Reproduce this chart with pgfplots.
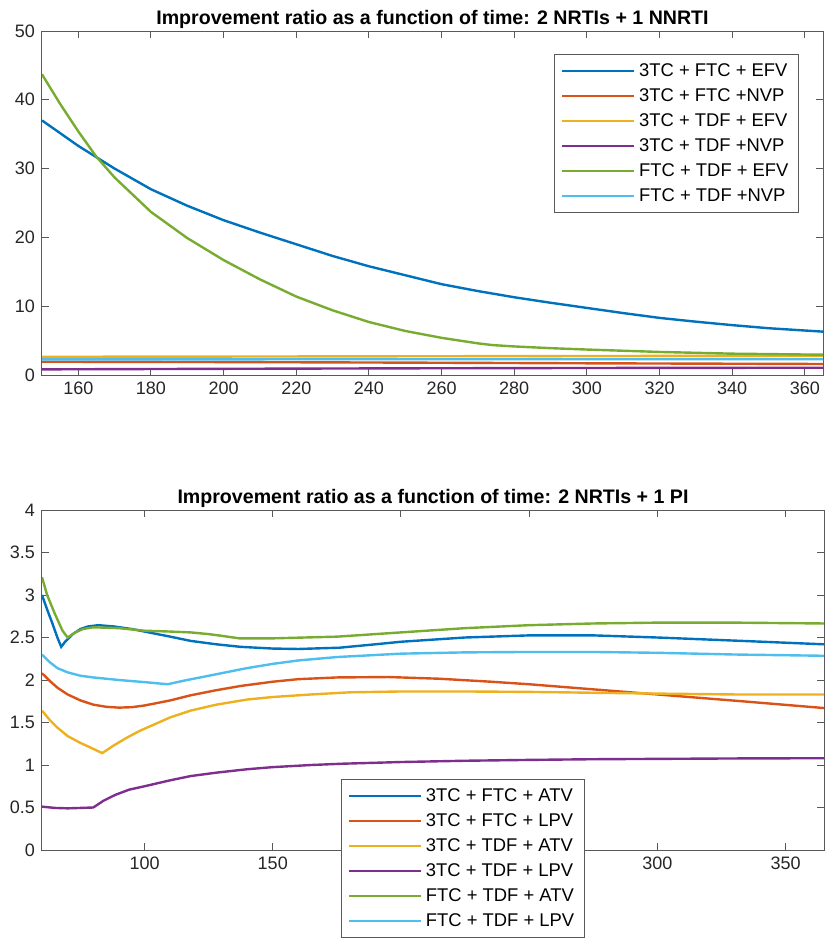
\documentclass[border=0pt]{standalone}
\usepackage{fontspec}
\setmainfont{Liberation Sans}
\usepackage{pgfplots}
\pgfplotsset{compat=1.18}
\definecolor{c1}{rgb}{0,0.447,0.741}
\definecolor{c2}{rgb}{0.85,0.325,0.098}
\definecolor{c3}{rgb}{0.929,0.694,0.125}
\definecolor{c4}{rgb}{0.494,0.184,0.556}
\definecolor{c5}{rgb}{0.466,0.674,0.188}
\definecolor{c6}{rgb}{0.301,0.745,0.933}
\pgfplotsset{
 mystyle/.style={
  scale only axis,
  axis line style={black!65, line width=0.5pt},
  tick style={black!65, line width=0.5pt},
  major tick length=3.5pt,
  tick align=inside,
  xtick pos=both, ytick pos=both,
  ticklabel style={font=\fontsize{9}{10}\selectfont, text=black!85},
  /pgf/number format/assume math mode=true,
  every axis title shift=0pt,
  title style={font=\bfseries\fontsize{9.8}{11}\selectfont, at={(0.5,1)}, anchor=base, inner sep=0pt, yshift=3.5pt},
  legend style={draw=black!65, line width=0.5pt, fill=white,
    font=\fontsize{9.2}{10}\selectfont, inner xsep=3pt, inner ysep=2pt,
    nodes={text height=7pt, text depth=2pt, inner ysep=1.75pt},
    /tikz/every even column/.append style={column sep=2pt}},
  legend cell align=left,
  legend image code/.code={\draw[#1, line width=1.2pt] (0pt,0pt) -- (36pt,0pt);},
  every axis plot/.append style={line width=1.2pt, mark=none},
 }
}
\begin{document}
\begin{tikzpicture}
\useasboundingbox (-21pt,15.5pt) rectangle (392pt,-453.5pt);
\begin{axis}[mystyle,
  width=390.5pt, height=172pt,
  at={(0,0)}, anchor=north west,
  xmin=150, xmax=365, ymin=0, ymax=50,
  xtick={160,180,...,360}, ytick={0,10,...,50},
  title={Improvement ratio as a function of time: 2 NRTIs + 1 NNRTI},
  legend style={at={(1,1)}, anchor=north east, xshift=-12pt, yshift=-11.5pt},
]
\addplot[c1] coordinates {(150,37.0)(160,33.3)(170,30.0)(180,27.0)(190,24.6)(200,22.5)(210,20.7)(220,19.0)(230,17.3)(240,15.8)(250,14.5)(260,13.2)(270,12.2)(280,11.3)(290,10.5)(300,9.75)(310,9.0)(320,8.3)(330,7.75)(340,7.25)(350,6.8)(365,6.3)};
\addlegendentry{3TC + FTC + EFV}
\addplot[c2] coordinates {(150,1.93)(200,1.88)(250,1.8)(300,1.7)(365,1.6)};
\addlegendentry{3TC + FTC +NVP}
\addplot[c3] coordinates {(150,2.65)(200,2.68)(250,2.72)(300,2.76)(365,2.8)};
\addlegendentry{3TC + TDF + EFV}
\addplot[c4] coordinates {(150,0.82)(200,0.9)(250,0.97)(300,1.02)(365,1.06)};
\addlegendentry{3TC + TDF +NVP}
\addplot[c5] coordinates {(150,43.7)(155,39.4)(160,35.4)(165,31.7)(170,28.7)(180,23.7)(190,19.9)(200,16.7)(210,13.9)(220,11.4)(230,9.4)(240,7.7)(250,6.4)(260,5.4)(270,4.6)(274,4.35)(280,4.15)(290,3.9)(300,3.7)(320,3.35)(340,3.1)(365,2.95)};
\addlegendentry{FTC + TDF + EFV}
\addplot[c6] coordinates {(150,2.27)(200,2.28)(250,2.29)(300,2.3)(365,2.3)};
\addlegendentry{FTC + TDF +NVP}
\end{axis}
\begin{axis}[mystyle,
  width=391pt, height=170pt,
  at={(0,-239.5pt)}, anchor=north west,
  xmin=60, xmax=365, ymin=0, ymax=4,
  xtick={100,150,...,350}, ytick={0,0.5,1,1.5,2,2.5,3,3.5,4},
  title={Improvement ratio as a function of time: 2 NRTIs + 1 PI},
  legend style={at={(0.3824,0.2088)}, anchor=north west},
]
\addplot[c1] coordinates {(60,3.0)(62,2.83)(64,2.67)(66,2.50)(67.5,2.39)(69,2.45)(72,2.54)(75,2.60)(78,2.63)(82,2.645)(88,2.63)(95,2.60)(100,2.57)(110,2.51)(118,2.46)(128,2.42)(137.5,2.39)(150,2.37)(160,2.365)(176,2.38)(190,2.42)(200,2.45)(225,2.50)(250,2.525)(275,2.525)(300,2.50)(333,2.46)(365,2.42)};
\addlegendentry{3TC + FTC + ATV}
\addplot[c2] coordinates {(60,2.08)(63,1.99)(66,1.91)(70,1.83)(75,1.76)(80,1.71)(85,1.685)(90,1.675)(95,1.68)(100,1.70)(110,1.76)(118,1.82)(128,1.88)(137.5,1.93)(150,1.98)(160,2.01)(175,2.03)(195,2.035)(215,2.015)(235,1.98)(250,1.95)(275,1.89)(300,1.83)(333,1.75)(365,1.67)};
\addlegendentry{3TC + FTC + LPV}
\addplot[c3] coordinates {(60,1.64)(63,1.53)(66,1.44)(70,1.34)(75,1.26)(80,1.19)(83.5,1.14)(88,1.23)(93,1.32)(98,1.40)(104,1.48)(110,1.56)(118,1.64)(128,1.71)(140,1.77)(150,1.80)(165,1.83)(180,1.855)(200,1.865)(225,1.865)(250,1.86)(275,1.85)(300,1.84)(330,1.83)(365,1.83)};
\addlegendentry{3TC + TDF + ATV}
\addplot[c4] coordinates {(60,0.51)(65,0.495)(70,0.49)(75,0.495)(80,0.50)(84,0.58)(88.7,0.65)(94,0.71)(100,0.75)(110,0.82)(118,0.87)(128,0.91)(140,0.95)(150,0.975)(165,1.0)(177,1.015)(200,1.035)(225,1.05)(250,1.06)(275,1.068)(300,1.072)(330,1.077)(365,1.08)};
\addlegendentry{3TC + TDF + LPV}
\addplot[c5] coordinates {(60,3.21)(62,3.0)(65,2.78)(68,2.58)(70,2.50)(73,2.56)(76,2.60)(80,2.62)(90,2.61)(100,2.58)(110,2.57)(118,2.56)(125,2.54)(130,2.52)(137,2.49)(150,2.49)(175,2.51)(200,2.56)(225,2.61)(250,2.645)(275,2.665)(300,2.675)(330,2.675)(365,2.665)};
\addlegendentry{FTC + TDF + ATV}
\addplot[c6] coordinates {(60,2.30)(63,2.21)(66,2.14)(70,2.09)(75,2.05)(80,2.03)(90,2.0)(100,1.975)(109,1.95)(115,1.99)(120,2.02)(130,2.08)(140,2.14)(150,2.19)(160,2.23)(175,2.27)(200,2.31)(225,2.325)(250,2.33)(275,2.33)(300,2.32)(330,2.30)(365,2.285)};
\addlegendentry{FTC + TDF + LPV}
\end{axis}
\end{tikzpicture}
\end{document}
